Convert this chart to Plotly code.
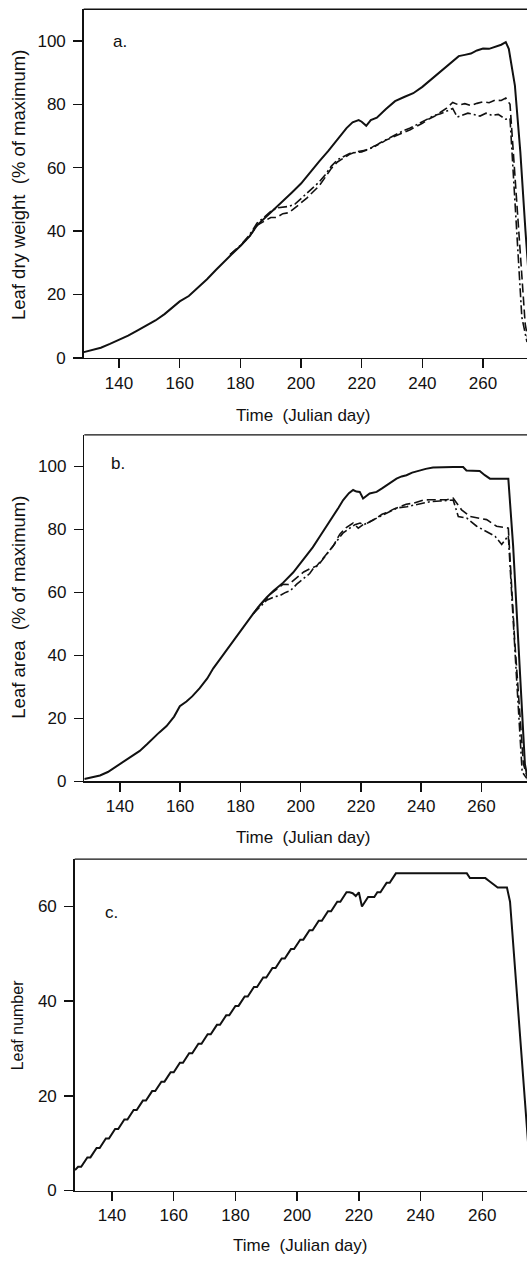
import plotly.graph_objects as go

W, H = 527, 1267

# ---------------- Panel a: leaf dry weight (% of maximum) ----------------
a_solid_day = [128.4, 131, 134, 137, 140, 143, 146, 149, 152, 155, 158, 160, 163, 166, 169, 172, 175, 178, 180,
               183, 185.5, 188, 191, 194, 197, 200, 203, 206, 209, 212, 215, 217, 219, 220, 221.5, 223, 225, 228,
               231, 234, 237, 240, 243, 246, 249, 252, 254, 256, 258, 260, 262, 264, 266, 267.5, 268.5, 270.5,
               272.3, 274, 275.5]
a_solid_val = [1.8, 2.4, 3.2, 4.4, 5.6, 7.0, 8.6, 10.2, 11.8, 13.8, 16.3, 17.8, 19.5, 22.0, 24.8, 27.8, 30.8, 33.5,
               35.3, 38.3, 41.8, 44.0, 46.8, 49.5, 52.2, 55.0, 58.6, 62.0, 65.3, 69.0, 72.5, 74.3, 75.0, 74.5, 73.2,
               75.0, 75.8, 78.5, 81.0, 82.3, 83.5, 85.5, 88.0, 90.4, 92.8, 95.2, 95.6, 96.0, 97.0, 97.6, 97.5, 98.2,
               98.8, 99.6, 97.5, 86.0, 65.0, 40.0, 20.0]

a_dash_day = [176.6, 180, 183, 185.5, 188, 190, 192, 194, 196, 197, 199.5, 202, 204, 206, 208, 210, 212, 214, 216,
              218, 220, 222, 224, 226, 228, 230, 232, 234, 236, 238, 240, 242, 244, 246, 248, 250, 252, 254, 256,
              258, 260, 262, 264, 266, 267.5, 268.9, 271.5, 273.9, 275]
a_dash_val = [32.6, 35.3, 38.3, 41.8, 43.2, 44.3, 44.3, 45.5, 45.8, 46.5, 48.5, 50.5, 52.5, 54.3, 57.0, 59.8, 61.8,
              63.0, 64.2, 65.0, 65.3, 65.6, 66.8, 67.5, 68.7, 69.5, 70.3, 71.3, 72.0, 73.0, 74.0, 75.3, 76.2, 77.5,
              78.8, 80.6, 79.8, 80.2, 79.6, 80.3, 80.8, 80.5, 81.3, 81.2, 82.0, 80.0, 45.0, 10.7, 5.0]

a_dd_day = [176.6, 180, 183, 185.5, 188, 190, 192, 194, 196, 198, 200, 202, 204, 206, 208, 210, 212, 214, 216, 218,
            220, 222, 224, 226, 228, 230, 232, 234, 236, 238, 240, 242, 244, 246, 248, 250, 251.5, 253, 255, 257,
            259, 261, 263, 265, 267.5, 268.9, 271, 272.8, 274.5]
a_dd_val = [32.6, 35.5, 38.8, 42.5, 44.5, 46.2, 47.3, 47.6, 47.8, 48.5, 50.2, 52.0, 53.8, 55.5, 57.8, 60.5, 62.5,
            63.5, 64.5, 64.8, 65.0, 65.8, 66.5, 67.8, 68.8, 69.8, 70.8, 71.8, 72.5, 73.5, 74.5, 75.5, 76.5, 77.0,
            77.8, 78.7, 76.0, 76.5, 77.2, 76.8, 76.3, 77.2, 76.5, 76.8, 75.3, 75.5, 40.0, 12.8, 5.0]

# ---------------- Panel b: leaf area (% of maximum) ----------------
b_solid_day = [128.2, 131, 133.4, 136, 140, 143, 146.6, 149, 151.1, 153, 155.5, 158, 159.9, 162.1, 164, 166.5, 169,
               171, 173, 175.4, 177.5, 179.8, 182, 184.2, 186.5, 188.7, 191, 194.2, 197.5, 200, 201.9, 204, 206.4,
               208.5, 210.8, 212.5, 214.1, 216, 217.4, 218.5, 219.6, 220.7, 222.9, 225.2, 227, 228.5, 230, 231.8,
               233.5, 235.1, 237, 239.5, 241.5, 243.9, 247, 250.6, 253.9, 255, 257, 259.4, 261.1, 262.8, 265, 267.2,
               268.9, 270.5, 272.2, 274.4, 275.5]
b_solid_val = [0.8, 1.4, 1.9, 3.0, 5.5, 7.5, 9.7, 11.8, 13.9, 15.5, 17.6, 20.6, 23.9, 25.4, 27.0, 29.6, 32.7, 35.9,
               38.5, 41.7, 44.4, 47.4, 50.2, 53.2, 56.0, 58.4, 60.5, 63.1, 66.3, 69.3, 71.5, 74.3, 77.8, 80.8, 84.1,
               86.8, 89.3, 91.5, 92.5, 92.0, 91.9, 89.8, 91.4, 91.9, 93.0, 94.0, 95.0, 96.1, 96.8, 97.2, 98.0, 98.7,
               99.2, 99.6, 99.8, 99.8, 99.8, 98.7, 98.6, 98.5, 97.2, 96.1, 96.1, 96.1, 96.1, 74.7, 43.3, 5.6, 0.0]

b_dash_day = [184.2, 186.5, 188.7, 190, 192, 194.2, 196, 198.7, 201, 203, 205.3, 208, 210.8, 213, 215, 217.4, 219.1,
              220.7, 222.9, 225, 227, 229, 231, 233, 235, 237.4, 240.7, 243, 246.2, 248.5, 250.6, 252.3, 253.4,
              256.2, 259.5, 261.7, 265, 268.3, 268.9, 271, 273.9, 275]
b_dash_val = [53.2, 56.0, 58.0, 59.5, 61.0, 62.6, 62.5, 64.7, 66.5, 67.5, 68.4, 71.5, 74.7, 78.5, 80.5, 82.0, 80.4,
              81.5, 82.3, 83.5, 84.8, 85.5, 86.5, 87.2, 88.0, 88.3, 89.3, 89.4, 89.5, 89.4, 89.9, 87.8, 86.2, 84.1,
              83.6, 83.1, 81.0, 80.4, 80.4, 45.0, 5.6, 2.0]

b_dd_day = [184.2, 186.5, 188.7, 191, 193.1, 195, 196.5, 198.7, 201, 203, 204.1, 206, 208, 210, 212, 214, 216, 218,
            219.7, 221, 223, 226.4, 229, 232, 235.2, 237.4, 240.7, 243, 246.2, 248.5, 250.6, 252.3, 255.1, 258.4,
            261.7, 264.5, 266.7, 268.9, 271.5, 273.5, 275]
b_dd_val = [53.2, 55.5, 57.5, 58.5, 59.0, 60.0, 60.5, 62.6, 64.5, 66.0, 67.5, 68.8, 71.3, 73.8, 76.5, 78.8, 80.2,
            81.5, 82.0, 81.5, 82.5, 84.1, 85.5, 86.8, 87.2, 87.7, 88.5, 88.8, 89.0, 89.2, 89.3, 84.1, 83.6, 81.0,
            79.4, 77.8, 75.2, 78.0, 35.0, 3.0, 1.0]

# ---------------- Panel c: leaf number (one value per day, day 128 .. 276) ----------------
c_day = list(range(128, 277))
c_val = [
    4.3, 5, 5, 6, 7, 7, 8, 9, 9, 10,          # 128-137
    11, 11, 12, 13, 13, 14, 15, 15, 16, 17,   # 138-147
    17, 18, 19, 19, 20, 21, 21, 22, 23, 23,   # 148-157
    24, 25, 25, 26, 27, 27, 28, 29, 29, 30,   # 158-167
    31, 31, 32, 33, 33, 34, 35, 35, 36, 37,   # 168-177
    37, 38, 39, 39, 40, 41, 41, 42, 43, 43,   # 178-187
    44, 45, 45, 46, 47, 47, 48, 49, 49, 50,   # 188-197
    51, 51, 52, 53, 53, 54, 55, 55, 56, 57,   # 198-207
    57, 58, 59, 59, 60, 61, 61, 62, 63, 63,   # 208-217
    62.8, 62.2, 63, 60, 61, 62, 62, 62, 63, 63,  # 218-227
    64, 65, 65, 66, 67, 67, 67, 67, 67, 67,   # 228-237
    67, 67, 67, 67, 67, 67, 67, 67, 67, 67,   # 238-247
    67, 67, 67, 67, 67, 67, 67, 67, 66, 66,   # 248-257
    66, 66, 66, 66, 65.5, 65, 64.5, 64, 64, 64,  # 258-267
    64, 61, 52, 43, 35, 26, 17, 8, 0,         # 268-276
]

x_ticks = [140, 160, 180, 200, 220, 240, 260]

FONT = "Liberation Sans, Arial, Helvetica, sans-serif"
INK = "#111111"

fig = go.Figure()

def add(x, y, xa, ya, width, dash):
    fig.add_trace(go.Scatter(x=x, y=y, xaxis=xa, yaxis=ya, mode="lines",
                             line=dict(color=INK, width=width, dash=dash),
                             showlegend=False, hoverinfo="skip"))

DASH = "9px,4px"
DASHDOT = "9px,3px,2px,3px"

add(a_solid_day, a_solid_val, "x", "y", 2.0, "solid")
add(a_dash_day, a_dash_val, "x", "y", 1.6, DASH)
add(a_dd_day, a_dd_val, "x", "y", 1.6, DASHDOT)

add(b_solid_day, b_solid_val, "x2", "y2", 2.0, "solid")
add(b_dash_day, b_dash_val, "x2", "y2", 1.6, DASH)
add(b_dd_day, b_dd_val, "x2", "y2", 1.6, DASHDOT)

add(c_day, c_val, "x3", "y3", 2.0, "solid")

def px_x(p):
    return p / W

def px_y(p):
    return 1 - p / H

axis_common = dict(showline=True, linecolor=INK, linewidth=1.5, ticks="outside", ticklen=9, tickwidth=1.5,
                   tickcolor=INK, showgrid=False, zeroline=False,
                   tickfont=dict(family=FONT, size=17, color=INK))

# pixel geometry (left, top, bottom of each frame)
geo = {
    "a": dict(left=83.7, top=9.3, bottom=360.7, xr=[128.35, 274.5], yr=[0, 110], yt=[0, 20, 40, 60, 80, 100]),
    "b": dict(left=84.3, top=438.3, bottom=787.7, xr=[128.2, 275.1], yr=[0, 110], yt=[0, 20, 40, 60, 80, 100]),
    "c": dict(left=74.7, top=866.0, bottom=1200.0, xr=[127.9, 274.5], yr=[0, 70], yt=[0, 20, 40, 60]),
}

layout = dict(width=W, height=H, margin=dict(l=0, r=0, t=0, b=0), paper_bgcolor="white", plot_bgcolor="white",
              showlegend=False)
for i, key in enumerate(["a", "b", "c"]):
    g = geo[key]
    sx = "" if i == 0 else str(i + 1)
    layout["xaxis" + sx] = dict(axis_common, domain=[px_x(g["left"]), 1.0], range=g["xr"], tickvals=x_ticks,
                                anchor="y" + sx)
    layout["yaxis" + sx] = dict(axis_common, domain=[px_y(g["bottom"]), px_y(g["top"])], range=g["yr"],
                                tickvals=g["yt"], anchor="x" + sx, ticklabelstandoff=4)
fig.update_layout(**layout)

# top frame lines
for i in range(3):
    sx = "" if i == 0 else str(i + 1)
    fig.add_shape(type="line", xref=("x" + sx + " domain"), yref=("y" + sx + " domain"),
                  x0=0, x1=1, y0=1, y1=1, line=dict(color=INK, width=1.4))

ann = []
def text(s, x, y, size, angle=0):
    ann.append(dict(text=s, x=px_x(x), y=px_y(y), xref="paper", yref="paper", showarrow=False,
                    xanchor="center", yanchor="middle", textangle=angle,
                    font=dict(family=FONT, size=size, color=INK)))

text("Time  (Julian day)", 303, 419, 17)
text("Time  (Julian day)", 303, 844, 17)
text("Time  (Julian day)", 300, 1255, 17)
text("Leaf dry weight  (% of maximum)", 18.5, 187, 18.5, -90)
text("Leaf area  (% of maximum)", 18.5, 612, 18.5, -90)
text("Leaf number", 17.5, 1033, 16, -90)
text("a.", 120, 42, 17)
text("b.", 117.5, 467.5, 17)
text("c.", 111.7, 920, 17)
fig.update_layout(annotations=ann)

fig.write_html("out.html", config={"displayModeBar": False, "staticPlot": True})

# remove the browser's default page margin so the figure sits at the window origin
with open("out.html", "r", encoding="utf-8") as f:
    html = f.read()
html = html.replace("<head>", "<head><style>html,body{margin:0;padding:0;overflow:hidden;}</style>", 1)
with open("out.html", "w", encoding="utf-8") as f:
    f.write(html)
